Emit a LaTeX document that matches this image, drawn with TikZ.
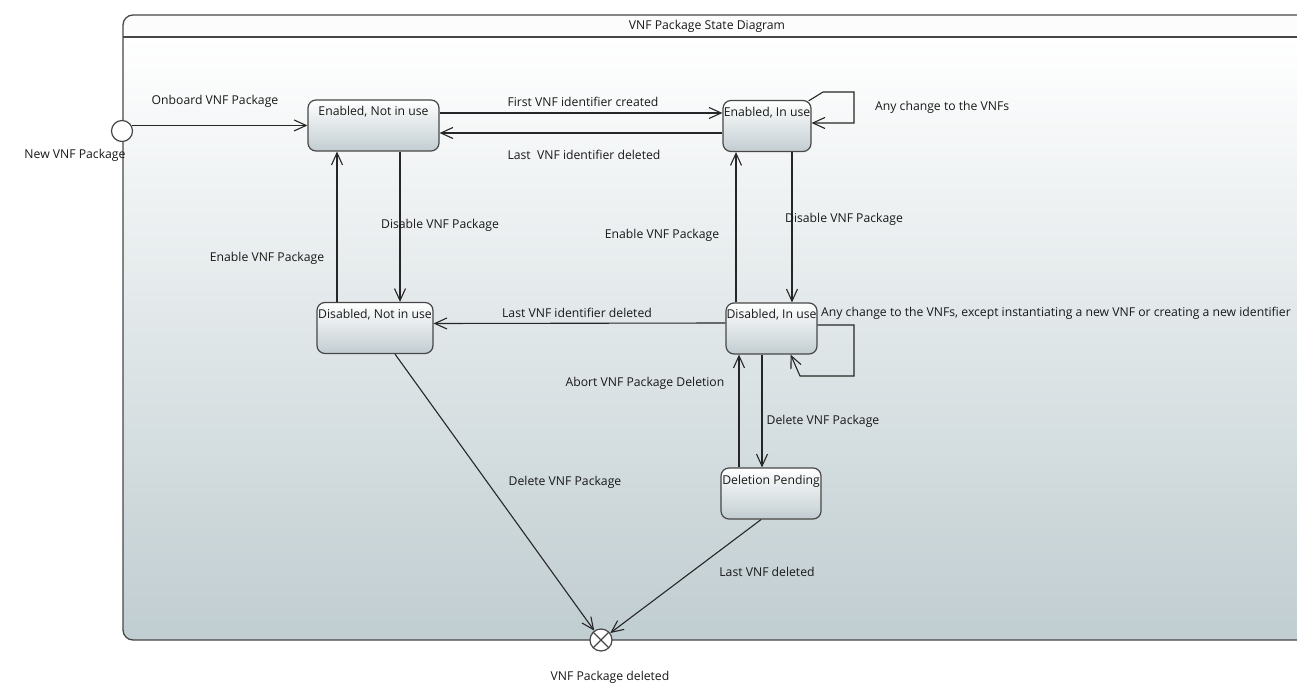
\documentclass[tikz,border=0pt]{standalone}
\usepackage{fontspec}
\setmainfont{Open Sans}
\usetikzlibrary{arrows.meta,calc}
\definecolor{framegray}{HTML}{C0CDD1}
\definecolor{stategray}{HTML}{C2CDD1}
\definecolor{edgecol}{HTML}{474747}
\begin{document}
\begin{tikzpicture}[x=1pt,y=-1pt,
  every node/.style={font=\fontsize{12.2}{14}\selectfont, text=black!90},
  lbl/.style={inner sep=0pt},
  stbox/.style={draw=edgecol, line width=1.2pt, rounded corners=8pt,
    top color=white, bottom color=stategray, inner xsep=0pt, inner ysep=5pt,
    text height=11pt, text depth=30pt, align=center},
  arr/.style={draw=black!85, line width=1.1pt, -{Straight Barb[length=12pt,width=11pt,line width=1.1pt]}},
  ln/.style={draw=black!85, line width=1.1pt}]
\useasboundingbox (0,0) rectangle (1297,684);
\clip (0,0) rectangle (1297,684);
\fill[white] (0,0) rectangle (1297,684);
% frame
\shade[top color=white, bottom color=framegray, rounded corners=10pt] (123,37) rectangle (1330,640);
\fill[white!99!black, rounded corners=10pt] (123,15) rectangle (1330,37) -- cycle;
\draw[edgecol, line width=1.3pt, rounded corners=10pt] (123,15) rectangle (1330,640);
\draw[edgecol, line width=1.3pt] (123,37) coordinate (tl) -- (1330,37) coordinate (tr);
\node[lbl] (title) at (707,26) {VNF Package State Diagram};
% pseudo states
\node[circle, draw=edgecol, line width=1.2pt, fill=white, minimum size=21pt, inner sep=0pt] (init) at (122,131) {};
\node[lbl] (initlbl) at (75,155) {New VNF Package};
\node[circle, draw=edgecol, line width=1.2pt, fill=white, minimum size=22pt, inner sep=0pt,
  path picture={\draw[edgecol, line width=1.1pt] (path picture bounding box.north west) -- (path picture bounding box.south east)
  (path picture bounding box.north east) -- (path picture bounding box.south west);}] (fin) at (601,640) {};
\node[lbl] (finlbl) at (610,677) {VNF Package deleted};
% states
\node[stbox, minimum width=131pt, minimum height=51pt] (enu) at (373.5,125.5) {Enabled, Not in use};
\node[stbox, minimum width=88pt, minimum height=50pt] (eiu) at (767,126) {Enabled, In use};
\node[stbox, minimum width=116pt, minimum height=50pt] (dnu) at (375,328) {Disabled, Not in use};
\node[stbox, minimum width=91pt, minimum height=51pt] (diu) at (771.5,328.5) {Disabled, In use};
\node[stbox, minimum width=100pt, minimum height=51pt] (delp) at (771,493.5) {Deletion Pending};
% transitions
\draw[arr] (init.30) -- (enu.west |- init.30);
\draw[arr] ([yshift=12.5pt]enu.east) -- ([yshift=13pt]eiu.west);
\draw[arr] ([yshift=-7pt]eiu.west) -- ([yshift=-7.5pt]enu.east);
\draw[arr] ([xshift=26.5pt]enu.south) -- ([xshift=25pt]dnu.north);
\draw[arr] ([xshift=-38pt]dnu.north) -- ([xshift=-36.5pt]enu.south);
\draw[arr] ([xshift=25pt]eiu.south) -- ([xshift=20.5pt]diu.north);
\draw[arr] ([xshift=-35.5pt]diu.north) -- ([xshift=-31pt]eiu.south);
\draw[arr] ([yshift=5.5pt]diu.west) -- ([yshift=4.5pt]dnu.east);
\draw[arr] ([xshift=-9.5pt]diu.south) -- ([xshift=-9pt]delp.north);
\draw[arr] ([xshift=-32pt]delp.north) -- ([xshift=-32.5pt]diu.south);
\draw[arr] ([xshift=20pt]dnu.south) -- (fin);
\draw[arr] ([xshift=-10pt]delp.south) -- (fin);
% self loops
\draw[arr] ([xshift=-3pt,yshift=-1pt]eiu.north east) -- (823,92) -- (854,92) -- (854,123) -- (eiu.east |- 0,123);
\draw[arr] (diu.east |- 0,325) -- (854,325) -- (854,376) -- (800,376) -- ([xshift=-27pt]diu.south east);
% labels
\node[lbl] (l1) at (215,101) {Onboard VNF Package};
\node[lbl] (l2) at (583,102) {First VNF identifier created};
\node[lbl] (l3) at (584,155) {Last\ \ VNF identifier deleted};
\node[lbl, anchor=west] (l4) at (875,107) {Any change to the VNFs};
\node[lbl] (l5) at (440,225) {Disable VNF Package};
\node[lbl] (l6) at (267,258) {Enable VNF Package};
\node[lbl] (l7) at (662,235) {Enable VNF Package};
\node[lbl] (l8) at (844,219) {Disable VNF Package};
\node[lbl] (l9) at (577,313) {Last VNF identifier deleted};
\node[lbl, anchor=west] (l10) at (821,313) {Any change to the VNFs, except instantiating a new VNF or creating a new identifier};
\node[lbl] (l11) at (645,383) {Abort VNF Package Deletion};
\node[lbl] (l12) at (823,421) {Delete VNF Package};
\node[lbl] (l13) at (565,482) {Delete VNF Package};
\node[lbl] (l14) at (767,572) {Last VNF deleted};
\end{tikzpicture}
\end{document}
